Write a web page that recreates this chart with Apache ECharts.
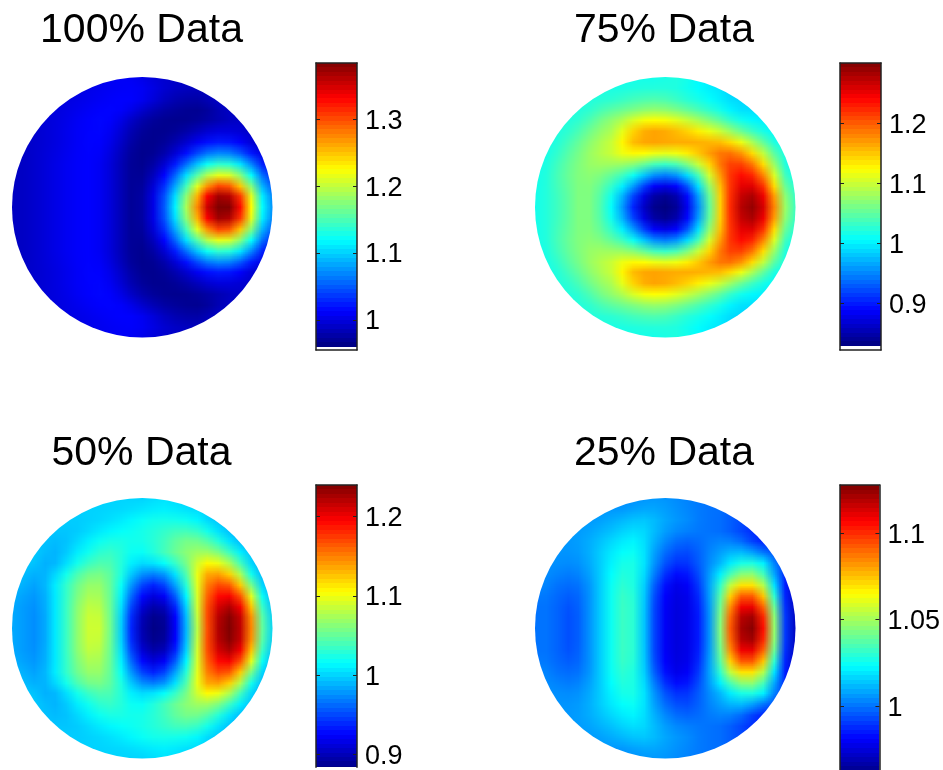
<!DOCTYPE html>
<html><head><meta charset="utf-8">
<style>html,body{margin:0;padding:0;background:#fff}#c{width:943px;height:770px}</style>
<script src="https://cdn.jsdelivr.net/npm/echarts@6/dist/echarts.min.js"></script>
</head><body><div id="c"></div>
<script>
// Values: upper half of each disk, top row first (the disks are symmetric top/bottom).
const data100 = [
[1.005,1.008,1.01,1.01,1.008,1.0,.995,.992,.99,.99],
[1.0,1.003,1.005,1.008,1.01,1.012,1.015,1.012,1.0,.99,.985,.982,.985,.99],
[1.0,1.003,1.006,1.01,1.012,1.015,1.015,1.008,.995,.985,.978,.973,.97,.97,.985,.995],
[.998,1.0,1.005,1.01,1.013,1.015,1.013,1.003,.99,.978,.972,.968,.966,.965,.966,.968,.98,.99],
[.995,.998,1.002,1.008,1.012,1.015,1.015,1.005,.99,.978,.97,.966,.965,.966,.972,.98,.988,.99,.988,.992],
[.99,.995,.998,1.002,1.008,1.012,1.015,1.012,1.0,.985,.972,.966,.966,.97,.98,.99,1.0,1.008,1.01,1.005,.995,.985],
[.99,.995,.998,1.002,1.008,1.013,1.015,1.01,.995,.98,.968,.965,.968,.978,.993,1.01,1.03,1.035,1.04,1.03,1.015,.99],
[.988,.99,.995,1.0,1.005,1.01,1.013,1.013,1.005,.99,.975,.965,.966,.975,.993,1.02,1.05,1.08,1.1,1.105,1.09,1.06,1.025,.99],
[.988,.99,.995,1.0,1.005,1.01,1.013,1.013,1.005,.99,.975,.965,.972,.99,1.02,1.06,1.105,1.145,1.17,1.18,1.165,1.12,1.07,1.02],
[.988,.99,.995,1.0,1.005,1.01,1.013,1.013,1.005,.99,.975,.965,.975,1.005,1.04,1.1,1.16,1.21,1.25,1.26,1.235,1.18,1.11,1.035],
[.988,.99,.995,1.0,1.005,1.01,1.013,1.013,1.005,.99,.975,.965,.985,1.02,1.065,1.13,1.2,1.28,1.345,1.36,1.325,1.255,1.15,1.06],
[.988,.99,.995,1.0,1.005,1.01,1.013,1.013,1.005,.99,.975,.965,.985,1.02,1.08,1.15,1.23,1.32,1.385,1.39,1.375,1.28,1.17,1.07]
];
const data75 = [
[1.015,1.015,1.015,1.015,1.015,1.02,1.02,1.01,1.0,1.0],
[1.018,1.02,1.02,1.025,1.028,1.03,1.03,1.025,1.015,1.01,1.005,.995,.99,.985],
[1.02,1.025,1.03,1.035,1.045,1.05,1.055,1.055,1.05,1.04,1.03,1.02,1.01,1.0,.99,.988],
[1.02,1.025,1.04,1.06,1.07,1.075,1.09,1.095,1.098,1.09,1.08,1.065,1.05,1.035,1.018,1.0,.995,.993],
[1.02,1.025,1.04,1.06,1.075,1.085,1.12,1.142,1.152,1.15,1.145,1.13,1.118,1.1,1.08,1.06,1.04,1.02,1.007,1.0],
[1.015,1.025,1.04,1.055,1.075,1.085,1.1,1.145,1.168,1.18,1.18,1.175,1.168,1.16,1.145,1.135,1.12,1.095,1.065,1.045,1.015,1.0],
[1.015,1.035,1.05,1.065,1.085,1.095,1.115,1.15,1.155,1.155,1.15,1.15,1.155,1.165,1.17,1.18,1.18,1.165,1.135,1.095,1.05,1.015],
[1.015,1.02,1.045,1.055,1.072,1.085,1.09,1.098,1.102,1.098,1.085,1.075,1.075,1.09,1.115,1.145,1.18,1.205,1.205,1.185,1.145,1.09,1.035,1.0],
[1.015,1.028,1.05,1.06,1.072,1.075,1.07,1.06,1.048,1.028,1.002,.988,.988,1.008,1.045,1.09,1.155,1.205,1.23,1.225,1.19,1.13,1.05,1.005],
[1.015,1.03,1.048,1.06,1.07,1.065,1.05,1.028,1.005,.965,.925,.905,.905,.928,.978,1.045,1.125,1.195,1.24,1.252,1.23,1.17,1.075,1.015],
[1.015,1.03,1.042,1.06,1.07,1.06,1.035,1.005,.96,.908,.868,.85,.85,.875,.93,1.015,1.105,1.19,1.245,1.275,1.265,1.21,1.105,1.025],
[1.015,1.03,1.04,1.06,1.07,1.06,1.025,.99,.93,.878,.845,.828,.828,.855,.908,.995,1.1,1.19,1.255,1.295,1.285,1.235,1.125,1.03]
];
const data50 = [
[1.0,1.0,1.0,1.0,1.0,1.0,1.005,1.005,1.0,.998],
[.998,.998,1.0,1.0,1.003,1.005,1.01,1.015,1.015,1.015,1.012,1.01,1.0,.995],
[1.0,.995,.998,1.0,1.005,1.01,1.015,1.02,1.025,1.03,1.03,1.03,1.025,1.015,1.0,.99],
[.995,.99,.995,1.0,1.01,1.015,1.02,1.02,1.02,1.025,1.03,1.04,1.05,1.05,1.045,1.025,1.005,.985],
[.995,.99,.99,1.0,1.01,1.02,1.03,1.03,1.025,1.02,1.025,1.035,1.045,1.06,1.065,1.06,1.05,1.03,1.005,.985],
[1.0,.995,.985,.99,1.005,1.02,1.03,1.04,1.035,1.02,1.01,1.015,1.03,1.045,1.06,1.07,1.09,1.085,1.07,1.04,1.01,.985],
[.995,.985,.985,1.0,1.02,1.04,1.05,1.05,1.04,1.015,.995,.99,.99,1.0,1.03,1.07,1.125,1.125,1.115,1.08,1.025,.985],
[.995,.985,.985,1.0,1.02,1.045,1.06,1.07,1.06,1.04,1.005,.97,.95,.95,.975,1.015,1.06,1.135,1.155,1.16,1.13,1.07,1.005,.98],
[.99,.98,.98,.995,1.02,1.045,1.065,1.075,1.065,1.035,.99,.95,.925,.92,.95,.99,1.05,1.135,1.175,1.19,1.175,1.12,1.035,.985],
[.985,.975,.98,.995,1.02,1.05,1.075,1.085,1.07,1.035,.98,.93,.905,.9,.92,.97,1.04,1.14,1.19,1.215,1.21,1.16,1.065,.99],
[.985,.975,.975,.995,1.02,1.05,1.08,1.09,1.075,1.03,.97,.915,.89,.885,.9,.955,1.035,1.14,1.2,1.235,1.235,1.19,1.09,.995],
[.985,.975,.975,.995,1.02,1.05,1.08,1.095,1.08,1.03,.965,.91,.885,.88,.895,.95,1.03,1.13,1.205,1.24,1.24,1.195,1.1,1.0]
];
const data25 = [
[1.003,1.004,1.005,1.006,1.006,1.005,1.003,1.002,1.0,1.0],
[1.005,1.007,1.008,1.01,1.012,1.012,1.01,1.007,1.005,1.003,1.0,1.0,.998,.995],
[1.006,1.008,1.01,1.012,1.015,1.016,1.015,1.01,1.007,1.005,1.003,1.0,1.0,.998,.995,.99],
[1.006,1.008,1.01,1.013,1.016,1.02,1.02,1.015,1.008,1.003,1.0,1.0,1.0,1.0,.998,.995,.99,.985],
[1.006,1.006,1.008,1.012,1.017,1.02,1.023,1.023,1.013,1.005,.998,.995,.995,1.0,1.005,1.008,1.007,1.002,.99,.985],
[1.005,1.005,1.005,1.007,1.012,1.018,1.023,1.027,1.025,1.013,1.0,.993,.99,.993,1.0,1.006,1.01,1.018,1.02,1.018,1.008,.99],
[1.005,1.003,1.003,1.005,1.012,1.018,1.026,1.03,1.025,1.012,.997,.988,.985,.99,1.0,1.01,1.02,1.032,1.038,1.036,1.022,.99],
[1.005,1.002,1.0,1.0,1.003,1.01,1.02,1.028,1.03,1.024,1.008,.99,.98,.978,.985,.998,1.018,1.035,1.052,1.06,1.052,1.028,.995,.975],
[1.003,1.0,.998,.997,1.0,1.01,1.02,1.03,1.033,1.024,1.005,.985,.978,.975,.982,.995,1.02,1.05,1.08,1.085,1.08,1.05,1.0,.972],
[1.0,1.0,.995,.995,1.0,1.01,1.02,1.03,1.035,1.025,1.003,.983,.977,.975,.98,.993,1.02,1.06,1.1,1.105,1.1,1.068,1.005,.97],
[1.0,1.0,.995,.993,1.0,1.01,1.02,1.03,1.035,1.025,1.002,.983,.976,.975,.98,.99,1.02,1.065,1.11,1.122,1.115,1.08,1.01,.97],
[1.0,1.0,.995,.993,1.0,1.01,1.02,1.03,1.035,1.025,1.002,.983,.976,.975,.98,.99,1.02,1.07,1.115,1.128,1.125,1.085,1.01,.97]
];
const titles = ['100% Data','75% Data','50% Data','25% Data'];
const ticks100 = [1,1.1,1.2,1.3];
const ticks75 = [0.9,1,1.1,1.2];
const ticks50 = [0.9,1,1.1,1.2];
const ticks25 = [1,1.05,1.1];
const colorRange100 = [0.96,1.384];
const colorRange75 = [0.83,1.3];
const colorRange50 = [0.88,1.24];
const colorRange25 = [0.96,1.128];
const barAxis100 = [0.955,1.384];
const barAxis75 = [0.823,1.3];
const barAxis50 = [0.884,1.24];
const barAxis25 = [0.963,1.128];

const panels = [
 {rows:data100,ticks:ticks100,range:colorRange100,axis:barAxis100,title:titles[0],L:12,T:77,bL:316,bT:63,bH:287,closed:true},
 {rows:data75,ticks:ticks75,range:colorRange75,axis:barAxis75,title:titles[1],L:535,T:77,bL:840,bT:63,bH:287,closed:true},
 {rows:data50,ticks:ticks50,range:colorRange50,axis:barAxis50,title:titles[2],L:12,T:498,bL:316,bT:485,bH:285,closed:false},
 {rows:data25,ticks:ticks25,range:colorRange25,axis:barAxis25,title:titles[3],L:535,T:498,bL:840,bT:485,bH:285,closed:false}
];
const jetRGB = t => {
  const v = Math.max(0, Math.min(1, t));
  return [3,2,1].map(c => Math.round(255*Math.max(0, Math.min(1, 1.5-Math.abs(4*v-c)))));
};
const jetBand = k => `rgb(${jetRGB((k+0.5)/64).join(',')})`;
const SIZE = 24, D = 260.5, fam = '"Liberation Sans",Arial,sans-serif';
// Interpolated shading, as the reference has: each cell is painted between the colours at its corners.
function cornerCanvas(grid, toT) {
  const cv = document.createElement('canvas'); cv.width = cv.height = SIZE+1;
  const ctx = cv.getContext('2d'), img = ctx.createImageData(SIZE+1, SIZE+1);
  for (let j=0;j<=SIZE;j++) for (let i=0;i<=SIZE;i++) {
    let s=0,n=0;
    [[i-1,j-1],[i,j-1],[i-1,j],[i,j]].forEach(([a,b]) => { const v = grid[b]&&grid[b][a]; if (v!=null){s+=v;n++;} });
    const rgb = n ? jetRGB(toT(s/n)) : [255,255,255], o=(j*(SIZE+1)+i)*4;
    img.data[o]=rgb[0]; img.data[o+1]=rgb[1]; img.data[o+2]=rgb[2]; img.data[o+3]=255;
  }
  ctx.putImageData(img,0,0);
  return cv;
}
const option = {animation:false,backgroundColor:'#fff',title:[],grid:[],xAxis:[],yAxis:[],series:[]};
const hidden = {type:'value',min:-1,max:1,show:false};
panels.forEach((p,n) => {
  option.title.push({text:p.title,left:n%2?664:141.5,top:n<2?10:433,padding:0,textAlign:'center',
    textStyle:{fontSize:41,fontWeight:'normal',color:'#000',fontFamily:fam}});
  // disk
  const g = option.grid.length, dx = option.xAxis.length, dy = option.yAxis.length;
  option.grid.push({left:p.L,top:p.T,width:D,height:D});
  option.xAxis.push({...hidden,gridIndex:g}); option.yAxis.push({...hidden,gridIndex:g});
  const all = p.rows.concat(p.rows.slice().reverse());
  const span = p.range[1]-p.range[0], cells = [], grid = [];
  all.forEach((r,j) => { const off=(SIZE-r.length)/2; grid[j]=[];
    r.forEach((v,i) => { grid[j][i+off]=v; cells.push([i+off,j,v]); }); });
  const tex = cornerCanvas(grid, v=>(v-p.range[0])/span);
  const xOf = i=>(i-SIZE/2)/(SIZE/2), yOf = j=>(SIZE/2-j)/(SIZE/2);
  option.series.push({type:'custom',xAxisIndex:dx,yAxisIndex:dy,data:cells,encode:{x:0,y:1},silent:true,
    renderItem:(params,api)=>{
      const i=api.value(0),j=api.value(1),a=api.coord([xOf(i),yOf(j)]),b=api.coord([xOf(i+1),yOf(j+1)]);
      const c=api.coord([0,0]),e=api.coord([1,0]);
      const x0=Math.round(a[0]),y0=Math.round(a[1]),x1=Math.round(b[0]),y1=Math.round(b[1]);
      return {type:'image',style:{image:tex,x:x0,y:y0,width:x1-x0,height:y1-y0,sx:i+0.5,sy:j+0.5,sWidth:1,sHeight:1},
        clipPath:{type:'circle',shape:{cx:c[0],cy:c[1],r:e[0]-c[0]}}};
    }});
  // colour bar
  const q = option.grid.length;
  option.grid.push({left:p.bL,top:p.bT,width:41,height:p.bH});
  const line={show:true,onZero:false,lineStyle:{color:'#222',width:1.5}};
  const xa = option.xAxis.length, ya = option.yAxis.length;
  option.xAxis.push({type:'value',min:0,max:1,gridIndex:q,position:'bottom',z:5,axisLine:{...line,show:p.closed},axisTick:{show:false},axisLabel:{show:false},splitLine:{show:false}});
  option.xAxis.push({type:'value',min:0,max:1,gridIndex:q,position:'top',z:5,axisLine:line,axisTick:{show:false},axisLabel:{show:false},splitLine:{show:false}});
  option.yAxis.push({type:'value',min:p.axis[0],max:p.axis[1],gridIndex:q,position:'right',z:5,axisLine:line,splitLine:{show:false},
    axisTick:{inside:true,length:4,customValues:p.ticks,lineStyle:{color:'#222',width:1}},
    axisLabel:{customValues:p.ticks,margin:8,fontSize:27,verticalAlign:'top',lineHeight:4,color:'#000',fontFamily:fam,formatter:v=>String(v)}});
  option.yAxis.push({type:'value',min:p.axis[0],max:p.axis[1],gridIndex:q,position:'left',z:5,axisLine:line,splitLine:{show:false},
    axisTick:{inside:true,length:4,customValues:p.ticks,lineStyle:{color:'#222',width:1}},axisLabel:{show:false}});
  const bands=[]; for(let k=0;k<64;k++) bands.push([k]);
  option.series.push({type:'custom',xAxisIndex:xa,yAxisIndex:ya,data:bands,silent:true,encode:{y:0},
    renderItem:(params,api)=>{
      const k=api.value(0),lo=p.range[0]+span*k/64,hi=p.range[0]+span*(k+1)/64;
      if (hi<=p.axis[0]) return null;
      const a=api.coord([0,hi]),b=api.coord([1,Math.max(lo,p.axis[0])]);
      const y0=Math.round(a[1]),y1=Math.round(b[1]);
      return {type:'rect',shape:{x:a[0],y:y0,width:b[0]-a[0],height:y1-y0},style:{fill:jetBand(k)}};
    }});
});
const chart = echarts.init(document.getElementById('c'),null,{renderer:'canvas',width:943,height:770});
chart.setOption(option);
</script></body></html>
